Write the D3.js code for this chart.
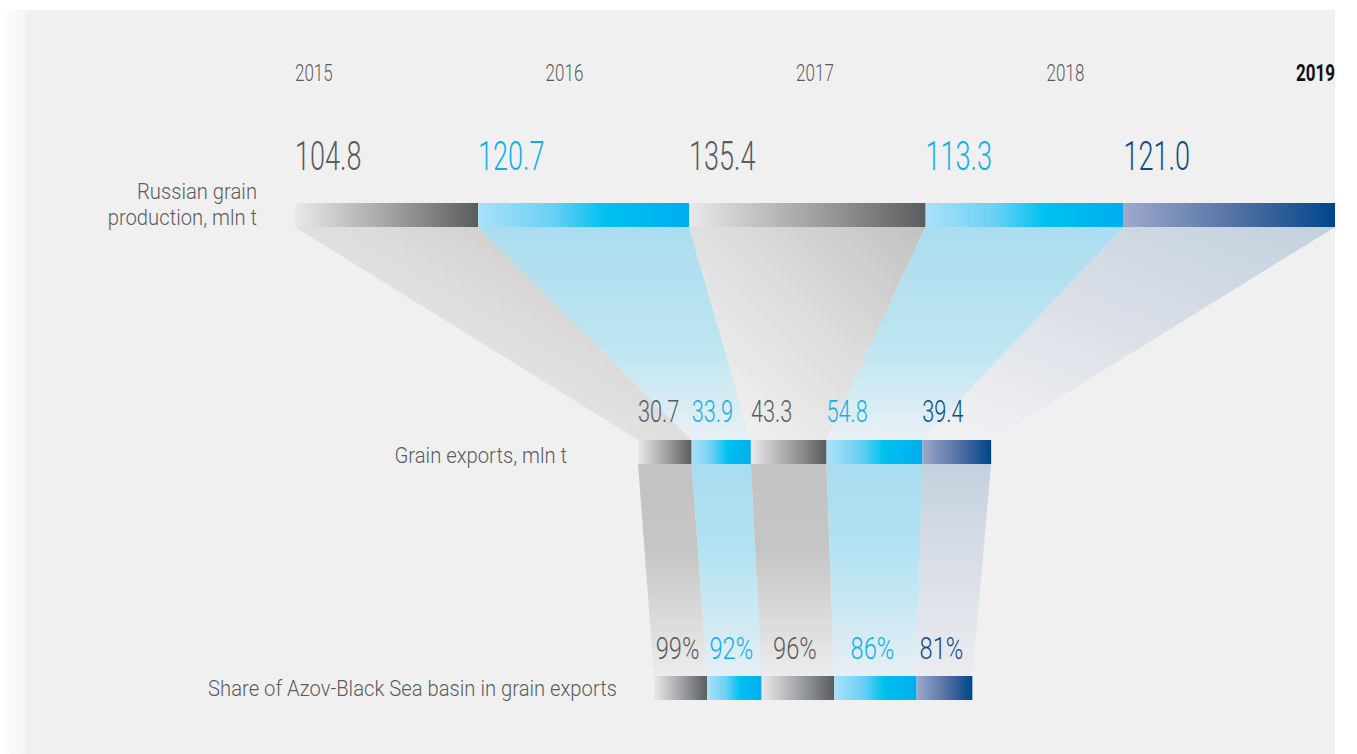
<!DOCTYPE html>
<html>
<head>
<meta charset="utf-8">
<script src="https://cdn.jsdelivr.net/npm/d3@7"></script>
<style>
  html, body { margin: 0; padding: 0; background: #ffffff; }
  svg { display: block; font-family: Roboto, "Noto Sans", sans-serif; }
</style>
</head>
<body>
<script>
const years = ["2015", "2016", "2017", "2018", "2019"]
const production = [104.8, 120.7, 135.4, 113.3, 121.0]
const grainExports = [30.7, 33.9, 43.3, 54.8, 39.4]
const azovShare = [99, 92, 96, 86, 81]
const tones = ["gray", "blue", "gray", "blue", "navy"]

const WIDTH = 1357
const HEIGHT = 754

const ROW = {
    prod: 203,
    exp: 440,
    share: 676,
    barH: 24
}

const START = { prod: 295, exp: 638, share: 654 }
const TOTAL = d3.sum(production)

const TEXT = {
    gray: "#5b5c5e",
    blue: "#0eb0ec",
    navy: "#0f4a8c"
}

const svg = d3
    .select("body")
    .append("svg")
    .attr("width", WIDTH)
    .attr("height", HEIGHT)

const defs = svg.append("defs")

// background: white page, soft left edge, grey panel
const edge = defs.append("linearGradient").attr("id", "edge")
edge.append("stop").attr("offset", 0).attr("stop-color", "#ffffff")
edge.append("stop").attr("offset", 1).attr("stop-color", "#f4f4f4")
svg.append("rect").attr("x", 0).attr("y", 10).attr("width", 27).attr("height", HEIGHT - 10).attr("fill", "url(#edge)")
svg.append("rect").attr("x", 27).attr("y", 10).attr("width", 1308).attr("height", HEIGHT - 10).attr("fill", "#f0f0f0")

// gradients
function grad(id, x1, y1, x2, y2, stops) {
    const g = defs.append("linearGradient")
        .attr("id", id)
        .attr("x1", x1).attr("y1", y1)
        .attr("x2", x2).attr("y2", y2)
    stops.forEach(s => g.append("stop").attr("offset", s[0]).attr("stop-color", s[1]))
}

grad("bar-gray", 0, 0, 1, 0, [[0, "#e9e9ea"], [0.5, "#a4a5a7"], [1, "#5b5c5e"]])
grad("bar-blue", 0, 0, 1, 0, [[0, "#abe1f8"], [0.35, "#6ad0f4"], [0.6, "#00c1f0"], [1, "#00adee"]])
grad("bar-navy", 0, 0, 1, 0, [[0, "#9da9cc"], [0.5, "#5874a6"], [1, "#00458a"]])

grad("fun-gray", 1, 0, 0.1, 0.85, [[0, "#c1c1c2"], [0.5, "#dcdcdc"], [1, "#f0f0f0"]])
grad("fun-blue", 0, 0, 0, 1, [[0, "#abdcef"], [0.55, "#bde5f1"], [1, "#e9f0f5"]])
grad("fun-navy", 1, 0, 0.2, 1, [[0, "#c2d1de"], [0.5, "#d9dee7"], [1, "#eff0f2"]])

grad("con-gray", 0, 0, 0, 1, [[0, "#c3c3c3"], [0.4, "#c5c5c5"], [1, "#ececec"]])
grad("con-blue", 0, 0, 0, 1, [[0, "#a9dcef"], [0.4, "#b2e2f1"], [1, "#e7eff5"]])
grad("con-navy", 0, 0, 0, 1, [[0, "#c3d1de"], [0.4, "#d6dce6"], [1, "#ececf0"]])

// scales: one px-per-unit for all three rows, each row with its own start
const xProd = d3.scaleLinear().domain([0, TOTAL]).range([START.prod, START.prod + 1040])
const xExp = d3.scaleLinear().domain([0, TOTAL]).range([START.exp, START.exp + 1040])
const xShare = d3.scaleLinear().domain([0, TOTAL]).range([START.share, START.share + 1040])

const shareVals = grainExports.map((v, i) => v * azovShare[i] / 100)

function segments(values, scale) {
    const ends = d3.cumsum(values)
    return values.map((v, i) => ({
        x0: scale(ends[i] - v),
        x1: scale(ends[i]),
        tone: tones[i]
    }))
}

const prodSeg = segments(production, xProd)
const expSeg = segments(grainExports, xExp)
const shareSeg = segments(shareVals, xShare)

// funnels production -> exports
const yTop1 = ROW.prod + ROW.barH
svg.selectAll(".funnel")
    .data(prodSeg)
    .enter()
    .append("path")
    .attr("class", "funnel")
    .attr("d", (d, i) => {
        const e = expSeg[i]
        return `M${d.x0},${yTop1}L${d.x1},${yTop1}L${e.x1},${ROW.exp}L${e.x0},${ROW.exp}Z`
    })
    .attr("fill", d => `url(#fun-${d.tone})`)

// connectors exports -> share
const yTop2 = ROW.exp + ROW.barH
svg.selectAll(".connector")
    .data(expSeg)
    .enter()
    .append("path")
    .attr("class", "connector")
    .attr("d", (d, i) => {
        const s = shareSeg[i]
        return `M${d.x0},${yTop2}L${d.x1},${yTop2}L${s.x1},${ROW.share}L${s.x0},${ROW.share}Z`
    })
    .attr("fill", d => `url(#con-${d.tone})`)

// bars
function bars(data, y, cls) {
    svg.selectAll("." + cls)
        .data(data)
        .enter()
        .append("rect")
        .attr("class", cls)
        .attr("x", d => d.x0)
        .attr("y", y)
        .attr("width", d => d.x1 - d.x0)
        .attr("height", ROW.barH)
        .attr("fill", d => `url(#bar-${d.tone})`)
}
bars(prodSeg, ROW.prod, "bar-prod")
bars(expSeg, ROW.exp, "bar-exp")
bars(shareSeg, ROW.share, "bar-share")

// condensed text helper
function label(x, y, txt, size, sx, opts = {}) {
    svg.append("text")
        .attr("transform", `translate(${x},${y}) scale(${sx},1)`)
        .attr("text-anchor", opts.anchor || "start")
        .attr("font-size", size)
        .attr("font-weight", opts.weight || 300)
        .attr("fill", opts.color || TEXT.gray)
        .text(txt)
}

// year labels
const xYear = d3.scalePoint().domain(years).range([314, 1316])
years.forEach((y, i) => {
    const last = i === years.length - 1
    const first = i === 0
    let x = xYear(y)
    let anchor = "middle"
    if (first) { x = prodSeg[0].x0; anchor = "start" }
    if (last) { x = prodSeg[i].x1; anchor = "end" }
    label(x, 81, y, 23, 0.74, {
        anchor: anchor,
        weight: last ? 700 : 300,
        color: last ? "#111111" : TEXT.gray
    })
})

// production values
prodSeg.forEach((d, i) => {
    label(d.x0, 170, production[i].toFixed(1), 41, 0.66, { color: TEXT[d.tone] })
})

// export values
expSeg.forEach((d, i) => {
    label(d.x0, 422, grainExports[i].toFixed(1), 31, 0.7, { color: TEXT[d.tone] })
})

// share values
shareSeg.forEach((d, i) => {
    label((d.x0 + d.x1) / 2 - 3, 659, azovShare[i] + "%", 32, 0.74, { anchor: "middle", color: TEXT[d.tone] })
})

// row titles
label(257, 199, "Russian grain", 22, 0.92, { anchor: "end" })
label(257, 225, "production, mln t", 22, 0.92, { anchor: "end" })
label(567, 463, "Grain exports, mln t", 22, 0.92, { anchor: "end" })
label(617, 696, "Share of Azov-Black Sea basin in grain exports", 22, 0.92, { anchor: "end" })
</script>
</body>
</html>
